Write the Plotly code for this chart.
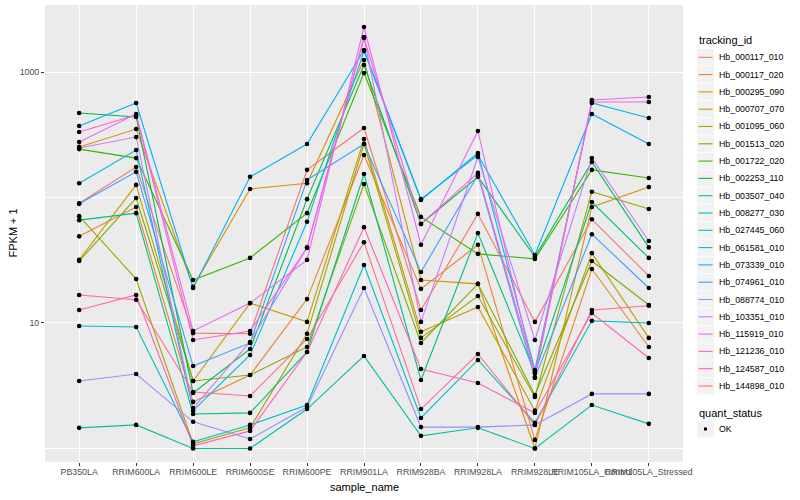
import plotly.graph_objects as go

samples = ["PB350LA", "RRIM600LA", "RRIM600LE", "RRIM600SE", "RRIM600PE", "RRIM901LA",
           "RRIM928BA", "RRIM928LA", "RRIM928LE", "RRIM105LA_Control", "RRIM105LA_Stressed"]

tracking_ids = ["Hb_000117_010", "Hb_000117_020", "Hb_000295_090", "Hb_000707_070", "Hb_001095_060",
                "Hb_001513_020", "Hb_001722_020", "Hb_002253_110", "Hb_003507_040", "Hb_008277_030",
                "Hb_027445_060", "Hb_061581_010", "Hb_073339_010", "Hb_074961_010", "Hb_088774_010",
                "Hb_103351_010", "Hb_115919_010", "Hb_121236_010", "Hb_124587_010", "Hb_144898_010"]

# FPKM + 1 per sample
hb_000117_010 = [90, 175, 8.3, 8.2, 166, 358, 12.7, 74, 10.2, 67, 23.7]
hb_000117_020 = [49, 84, 2.35, 3.85, 15.5, 218, 18.7, 42, 1.17, 26.9, 6.44]
hb_000295_090 = [253, 351, 19.4, 117, 130, 1246, 22, 20.5, 1.0, 84, 121]
hb_000707_070 = [31.8, 126, 3.45, 14.4, 10.2, 292, 8.5, 13.4, 2.0, 36, 7.6]
hb_001095_060 = [71, 22.4, 1.09, 1.46, 8.2, 267, 7.6, 16.4, 2.57, 111, 81]
hb_001513_020 = [31.2, 99, 3.45, 3.85, 6.44, 128, 6.93, 20.5, 2.67, 31.2, 13.9]
hb_001722_020 = [243, 206, 22, 33, 75, 982, 70, 35.5, 32.4, 166, 143]
hb_002253_110 = [471, 438, 2.77, 6.2, 97, 1137, 61.5, 146, 33.6, 192, 40]
hb_003507_040 = [66, 75, 1.88, 1.92, 5.87, 154, 3.51, 52, 4.0, 92, 33]
hb_008277_030 = [1.46, 1.54, 1.0, 1.0, 2.06, 5.46, 1.26, 1.46, 1.0, 2.22, 1.57]
hb_027445_060 = [9.46, 9.29, 1.13, 1.54, 2.22, 29, 1.75, 5.07, 1.6, 10.4, 10]
hb_061581_010 = [130, 239, 2.0, 5.56, 64, 1470, 95.5, 226, 4.22, 566, 430]
hb_073339_010 = [371, 566, 19, 146, 267, 1497, 97, 218, 34.8, 463, 267]
hb_074961_010 = [89, 160, 4.54, 6.93, 138, 267, 25.5, 151, 3.65, 51, 19]
hb_088774_010 = [3.45, 3.92, 1.63, 1.19, 2.14, 19, 1.48, 1.48, 1.54, 2.72, 2.72]
hb_103351_010 = [248, 303, 2.1, 7.06, 40, 1900, 10.2, 210, 7.32, 206, 45]
hb_115919_010 = [277, 463, 8.64, 14.4, 31.8, 2284, 42, 339, 3.71, 598, 632]
hb_121236_010 = [333, 454, 7.32, 8.64, 39.6, 1866, 61.5, 157, 4.0, 577, 577]
hb_124587_010 = [12.7, 16.7, 1.05, 1.38, 5.87, 58, 4.3, 3.32, 1.92, 12.0, 5.26]
hb_144898_010 = [16.7, 15.3, 2.82, 2.62, 7.46, 44, 2.06, 5.66, 1.54, 12.7, 13.7]

series_values = [hb_000117_010, hb_000117_020, hb_000295_090, hb_000707_070, hb_001095_060,
                 hb_001513_020, hb_001722_020, hb_002253_110, hb_003507_040, hb_008277_030,
                 hb_027445_060, hb_061581_010, hb_073339_010, hb_074961_010, hb_088774_010,
                 hb_103351_010, hb_115919_010, hb_121236_010, hb_124587_010, hb_144898_010]

colors = ["#F8766D", "#EA8331", "#D89000", "#C09B00", "#A3A500", "#7CAE00", "#39B600", "#00BB4E",
          "#00BF7D", "#00C1A3", "#00BFC4", "#00BAE0", "#00B0F6", "#35A2FF", "#9590FF", "#C77CFF",
          "#E76BF3", "#FA62DB", "#FF62BC", "#FF6C91"]

quant_status = ["OK"]

FONT = "Liberation Sans, Arial, sans-serif"
W, H = 800, 500
L, R, T, B = 45, 683, 5, 462

fig = go.Figure()
for name, vals, col in zip(tracking_ids, series_values, colors):
    fig.add_trace(go.Scatter(x=samples, y=vals, mode="lines", name=name,
                             line=dict(color=col, width=1.1), showlegend=False))

all_x, all_y = [], []
for vals in series_values:
    all_x.extend(samples)
    all_y.extend(vals)
fig.add_trace(go.Scatter(x=all_x, y=all_y, mode="markers", name=quant_status[0],
                         marker=dict(color="black", size=4.6), showlegend=False))

# custom ggplot-like legend (paper coords from pixel layout)
def px(xp):
    return (xp - L) / (R - L)

def py(yp):
    return (B - yp) / (B - T)

shapes = []
annotations = []
annotations.append(dict(x=px(697), y=py(40), xref="paper", yref="paper", text="tracking_id",
                        showarrow=False, xanchor="left", yanchor="middle",
                        font=dict(family=FONT, size=11, color="black")))
step = 17.3
y0 = 57.3
for i, (name, col) in enumerate(zip(tracking_ids, colors)):
    yc = y0 + i * step
    shapes.append(dict(type="rect", xref="paper", yref="paper", x0=px(697), x1=px(714),
                       y0=py(yc - step / 2 + 0.4), y1=py(yc + step / 2 - 0.4),
                       fillcolor="#F2F2F2", line=dict(width=0)))
    shapes.append(dict(type="line", xref="paper", yref="paper", x0=px(698.5), x1=px(712.5),
                       y0=py(yc), y1=py(yc), line=dict(color=col, width=1.1)))
    annotations.append(dict(x=px(717), y=py(yc), xref="paper", yref="paper", text=name,
                            showarrow=False, xanchor="left", yanchor="middle",
                            font=dict(family=FONT, size=8.8, color="black")))

annotations.append(dict(x=px(697), y=py(413), xref="paper", yref="paper", text="quant_status",
                        showarrow=False, xanchor="left", yanchor="middle",
                        font=dict(family=FONT, size=11, color="black")))
shapes.append(dict(type="rect", xref="paper", yref="paper", x0=px(697), x1=px(714),
                   y0=py(429 - 8.3), y1=py(429 + 8.3), fillcolor="#F2F2F2", line=dict(width=0)))
shapes.append(dict(type="rect", xref="paper", yref="paper", x0=px(704), x1=px(707),
                   y0=py(427.5), y1=py(430.5), fillcolor="black", line=dict(width=0)))
annotations.append(dict(x=px(717), y=py(429), xref="paper", yref="paper", text=quant_status[0],
                        showarrow=False, xanchor="left", yanchor="middle",
                        font=dict(family=FONT, size=8.8, color="black")))

# axis titles
annotations.append(dict(x=0.5, y=py(487), xref="paper", yref="paper", text="sample_name",
                        showarrow=False, xanchor="center", yanchor="middle",
                        font=dict(family=FONT, size=11, color="black")))
annotations.append(dict(x=px(12), y=0.5, xref="paper", yref="paper", text="FPKM + 1",
                        showarrow=False, xanchor="center", yanchor="middle", textangle=-90,
                        font=dict(family=FONT, size=11, color="black")))

fig.update_layout(
    width=W, height=H,
    margin=dict(l=L, r=W - R, t=T, b=H - B, pad=0),
    paper_bgcolor="white", plot_bgcolor="#EBEBEB",
    font=dict(family=FONT, size=8.8, color="#4D4D4D"),
    showlegend=False,
    shapes=shapes, annotations=annotations,
)
fig.update_xaxes(type="category", categoryorder="array", categoryarray=samples,
                 range=[-0.6, len(samples) - 0.4], tickangle=0,
                 showgrid=True, gridcolor="white", gridwidth=1.1,
                 ticks="outside", ticklen=3, tickcolor="#333333", tickwidth=1,
                 ticklabelstandoff=-2,
                 tickfont=dict(family=FONT, size=8.8, color="#4D4D4D"),
                 showline=False, zeroline=False, automargin=False)
fig.update_yaxes(type="log", range=[-0.108, 3.534],
                 tickmode="array", tickvals=[10, 1000], ticktext=["10", "1000"],
                 showgrid=True, gridcolor="white", gridwidth=1.1,
                 minor=dict(tickmode="array", tickvals=[1, 100], showgrid=True,
                            gridcolor="white", gridwidth=0.55, ticks=""),
                 ticks="outside", ticklen=3, tickcolor="#333333", tickwidth=1,
                 tickfont=dict(family=FONT, size=8.8, color="#4D4D4D"),
                 showline=False, zeroline=False, automargin=False)

fig.write_html("out.html", config={"displayModeBar": False},
               post_script="document.body.style.margin='0px';document.body.style.overflow='hidden';")
